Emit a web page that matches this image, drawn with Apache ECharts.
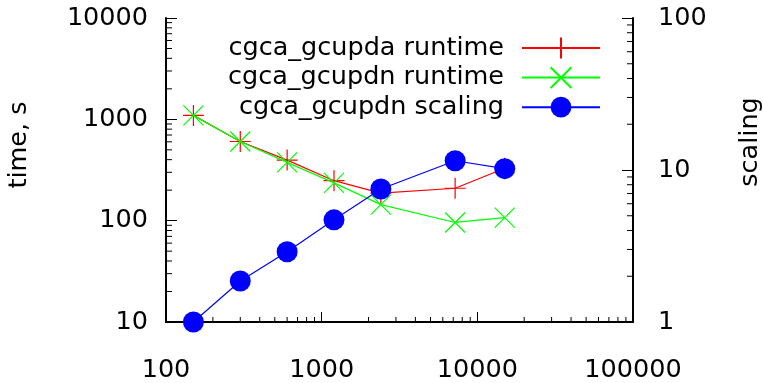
<!DOCTYPE html>
<html>
<head>
<meta charset="utf-8">
<script src="https://cdn.jsdelivr.net/npm/echarts@6/dist/echarts.min.js"></script>
<style>
  html, body { margin: 0; padding: 0; background: #fff; }
  #main { width: 763px; height: 383px; }
</style>
</head>
<body>
<div id="main"></div>
<script>
// processors (x) and measured values
var procs = [150, 300, 600, 1200, 2400, 7200, 15000];
var gcupdaRuntime = [1094, 604, 396, 248, 187, 209, 329];
var gcupdnRuntime = [1094, 604, 376, 236, 144, 96, 107];
var gcupdnScaling = [1.0, 1.86, 2.9, 4.7, 7.5, 11.5, 10.2];

var seriesNames = ['cgca_gcupda runtime', 'cgca_gcupdn runtime', 'cgca_gcupdn scaling'];

function pairs(xs, ys) {
  return xs.map(function (x, i) { return [x, ys[i]]; });
}

// minor ticks 2..9 in each decade
function minorTicks(lo, hi) {
  var out = [];
  for (var d = lo; d < hi; d *= 10) {
    for (var k = 2; k <= 9; k++) out.push(d * k);
  }
  return out;
}

var FONT = 'DejaVu Sans';
var FS = 25.5;
var chart = echarts.init(document.getElementById('main'), null, { renderer: 'canvas' });

function tickSeries(name, data, yIdx, dx, dy) {
  return {
    name: name,
    type: 'custom',
    xAxisIndex: 0,
    yAxisIndex: yIdx,
    silent: true,
    z: 1,
    data: data,
    renderItem: function (params, api) {
      var p = api.coord([api.value(0), api.value(1)]);
      return {
        type: 'line',
        shape: { x1: p[0], y1: p[1], x2: p[0] + dx, y2: p[1] + dy },
        style: { stroke: '#000', lineWidth: 1 }
      };
    }
  };
}

var plusSym = 'path://M0,-1L0,1M-1,0L1,0';
var crossSym = 'path://M-1,-1L1,1M-1,1L1,-1';

function labelFmt(v) { return String(Math.round(v)); }

var option = {
  animation: false,
  backgroundColor: '#fff',
  textStyle: { fontFamily: FONT },
  grid: { left: 166, right: 130, top: 18, bottom: 59 },
  legend: {
    orient: 'vertical',
    align: 'right',
    right: 157,
    top: 30,
    itemWidth: 78,
    itemHeight: 26,
    itemGap: 3.6,
    data: seriesNames,
    textStyle: { fontFamily: FONT, fontSize: FS, color: '#000', lineHeight: 26, padding: [0, 13, 0, 0] }
  },
  xAxis: {
    type: 'log',
    logBase: 10,
    min: 100,
    max: 100000,
    axisLine: { show: true, onZero: false, lineStyle: { color: '#000', width: 2 } },
    axisTick: { show: true, inside: true, length: 10, lineStyle: { color: '#000', width: 1 } },
    splitLine: { show: false },
    axisLabel: {
      color: '#000', fontFamily: FONT, fontSize: FS, margin: 35,
      showMinLabel: true, showMaxLabel: true,
      formatter: labelFmt
    }
  },
  yAxis: [{
    type: 'log',
    logBase: 10,
    min: 10,
    max: 10000,
    position: 'left',
    axisLine: { show: true, lineStyle: { color: '#000', width: 2 } },
    axisTick: { show: true, inside: true, length: 11, lineStyle: { color: '#000', width: 1 } },
    splitLine: { show: false },
    axisLabel: { color: '#000', fontFamily: FONT, fontSize: FS, margin: 18, formatter: labelFmt }
  }, {
    type: 'log',
    logBase: 10,
    min: 1,
    max: 100,
    position: 'right',
    axisLine: { show: true, lineStyle: { color: '#000', width: 2 } },
    axisTick: { show: true, inside: true, length: 11, lineStyle: { color: '#000', width: 1 } },
    splitLine: { show: false },
    axisLabel: { color: '#000', fontFamily: FONT, fontSize: FS, margin: 25, formatter: labelFmt }
  }],
  graphic: [{
    type: 'text',
    x: 19, y: 145,
    rotation: Math.PI / 2,
    style: { text: 'time, s', fontFamily: FONT, fontSize: FS, fill: '#000', align: 'center', verticalAlign: 'middle' }
  }, {
    type: 'text',
    x: 750, y: 142,
    rotation: Math.PI / 2,
    style: { text: 'scaling', fontFamily: FONT, fontSize: FS, fill: '#000', align: 'center', verticalAlign: 'middle' }
  }],
  series: [
    tickSeries('xminor', minorTicks(100, 100000).map(function (v) { return [v, 10]; }), 0, 0, -5),
    tickSeries('yminor', minorTicks(10, 10000).map(function (v) { return [100, v]; }), 0, 6, 0),
    tickSeries('y2minor', minorTicks(1, 100).map(function (v) { return [100000, v]; }), 1, -6, 0),
    {
      name: seriesNames[0],
      type: 'line',
      yAxisIndex: 0,
      data: pairs(procs, gcupdaRuntime),
      symbol: plusSym,
      symbolSize: 21,
      lineStyle: { color: '#ff0000', width: 1.2 },
      itemStyle: { color: '#ff0000', borderColor: '#ff0000', borderWidth: 1.2 },
      z: 2
    },
    {
      name: seriesNames[1],
      type: 'line',
      yAxisIndex: 0,
      data: pairs(procs, gcupdnRuntime),
      symbol: crossSym,
      symbolSize: 20,
      lineStyle: { color: '#00ff00', width: 1.2 },
      itemStyle: { color: '#00ff00', borderColor: '#00ff00', borderWidth: 1.2 },
      z: 3
    },
    {
      name: seriesNames[2],
      type: 'line',
      yAxisIndex: 1,
      data: pairs(procs, gcupdnScaling),
      symbol: 'circle',
      symbolSize: 21,
      lineStyle: { color: '#0000ff', width: 1.2 },
      itemStyle: { color: '#0000ff', borderWidth: 0 },
      z: 4
    }
  ]
};

chart.setOption(option);
</script>
</body>
</html>
